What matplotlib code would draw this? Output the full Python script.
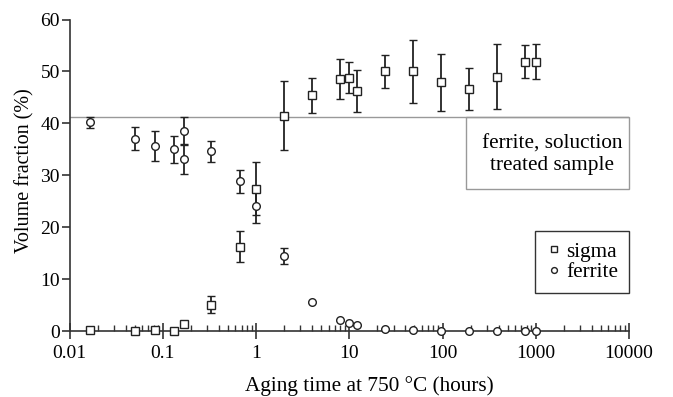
import numpy as np
import matplotlib.pyplot as plt
from matplotlib.patches import Rectangle
from matplotlib.ticker import LogLocator, NullFormatter

plt.rcParams['font.family'] = ['Liberation Serif', 'DejaVu Serif']

# aging times (hours)
t_sigma = [0.0167, 0.05, 0.0833, 0.133, 0.167, 0.333, 0.667, 1, 2, 4, 8, 10, 12,
           24, 48, 96, 192, 384, 768, 1000]
sigma = [0.2, 0.0, 0.1, 0.0, 1.3, 5.1, 16.2, 27.4, 41.5, 45.4, 48.5, 48.8, 46.2,
         50.0, 50.0, 47.9, 46.6, 49.0, 51.9, 51.9]
sigma_err = [0, 0, 0, 0, 0.4, 1.7, 3.0, 5.1, 6.7, 3.4, 3.9, 3.0, 4.0,
             3.2, 6.0, 5.5, 4.1, 6.2, 3.2, 3.4]

t_ferrite = [0.0167, 0.05, 0.0833, 0.133, 0.167, 0.167, 0.333, 0.667, 1, 2, 4, 8, 10, 12,
             24, 48, 96, 192, 384, 768, 1000]
ferrite = [40.2, 37.0, 35.6, 35.0, 38.5, 33.1, 34.6, 28.8, 24.0, 14.4, 5.6, 2.05, 1.6, 1.15,
           0.3, 0.1, 0.0, 0.0, 0.0, 0.0, 0.0]
ferrite_err = [1.1, 2.2, 2.9, 2.6, 2.7, 2.9, 2.0, 2.3, 3.2, 1.5, 0, 0, 0, 0,
               0, 0, 0, 0, 0, 0, 0]

ferrite_solution = 41.2

fig = plt.figure(figsize=(6.73, 3.97), dpi=100)
ax = fig.add_axes([69.5/673, 66/397, 559.5/673, 311.5/397])

ec = '#222222'
ax.errorbar(t_sigma, sigma, yerr=sigma_err, fmt='s', ms=5.5, mfc='white', mec=ec, mew=1.0,
            ecolor=ec, elinewidth=1.3, capsize=2.8, capthick=1.3, clip_on=False, zorder=3)
ax.errorbar(t_ferrite, ferrite, yerr=ferrite_err, fmt='o', ms=5.5, mfc='white', mec=ec, mew=1.0,
            ecolor=ec, elinewidth=1.3, capsize=2.8, capthick=1.3, clip_on=False, zorder=3)

ax.axhline(ferrite_solution, color='#999999', lw=1.0, zorder=1)

# boxed note under the line
trans = ax.get_yaxis_transform()
x0 = (466 - 69.5) / 559.5
ybot = 27.4
ax.add_patch(Rectangle((x0, ybot), 1 - x0, ferrite_solution - ybot, transform=trans,
                       fill=False, ec='#999999', lw=1.0, clip_on=False))
ax.text((x0 + 1) / 2 + 0.008, 34.0, 'ferrite, soluction\ntreated sample',
        transform=trans, ha='center', va='center', fontsize=15.3, linespacing=1.2)

# legend
h_s = ax.plot([], [], 's', ms=4.2, mfc='white', mec=ec, mew=1.0, label='sigma')[0]
h_f = ax.plot([], [], 'o', ms=4.2, mfc='white', mec=ec, mew=1.0, label='ferrite')[0]
leg = ax.legend(handles=[h_s, h_f], loc='upper right', bbox_to_anchor=(1.0, (331 - 231) / 311.5),
                frameon=True, fancybox=False, edgecolor='black', fontsize=15.3,
                handlelength=0.85, handletextpad=0.15, borderpad=0.5, labelspacing=0.05,
                borderaxespad=0)
leg.get_frame().set_linewidth(1.0)

ax.set_xscale('log')
ax.set_xlim(0.01, 10000)
ax.set_ylim(0, 60)
ax.set_yticks([0, 10, 20, 30, 40, 50, 60])
ax.set_xticks([0.01, 0.1, 1, 10, 100, 1000, 10000])
ax.set_xticklabels(['0.01', '0.1', '1', '10', '100', '1000', '10000'])
ax.xaxis.set_minor_locator(LogLocator(base=10, subs=np.arange(2, 10), numticks=20))
ax.xaxis.set_minor_formatter(NullFormatter())

for s in ['top', 'right']:
    ax.spines[s].set_visible(False)
for s in ['left', 'bottom']:
    ax.spines[s].set_color('#333333')
    ax.spines[s].set_linewidth(1.2)

ax.tick_params(axis='x', which='major', direction='inout', length=12, width=1.2, colors='#333333',
               labelcolor='black', labelsize=14, pad=4)
ax.tick_params(axis='x', which='minor', direction='in', length=4, width=1.0, colors='#333333')
ax.tick_params(axis='y', which='major', direction='out', length=6, width=1.2, colors='#333333',
               labelcolor='black', labelsize=14, pad=1)

ax.set_xlabel('Aging time at 750 °C (hours)', fontsize=15.3)
ax.xaxis.set_label_coords(0.535, -0.145)
ax.set_ylabel('Volume fraction (%)', fontsize=14.5)
ax.yaxis.set_label_coords(-0.062, 0.515)

fig.savefig('out.png', dpi=100)
